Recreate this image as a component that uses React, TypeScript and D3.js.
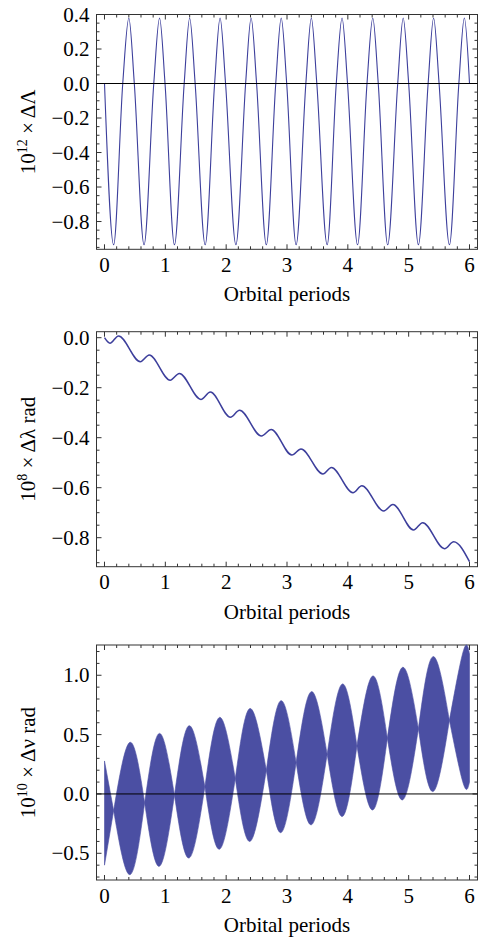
import React, { useEffect, useRef } from "react";
import * as d3 from "d3";

const periodTicks = [0, 1, 2, 3, 4, 5, 6];

// panel 1: 10^12 x ΔΛ  (troughs, zero crossings and peaks)
const bigLambdaX = [
  0, 0.15, 0.30, 0.40, 0.49, 0.65, 0.81, 0.905, 0.995, 1.15, 1.31, 1.40, 1.49,
  1.655, 1.81, 1.90, 1.99, 2.16, 2.32, 2.41, 2.50, 2.66, 2.815, 2.905, 2.995,
  3.15, 3.31, 3.40, 3.49, 3.66, 3.81, 3.905, 3.995, 4.16, 4.315, 4.41, 4.50,
  4.655, 4.82, 4.91, 5.00, 5.16, 5.32, 5.41, 5.50, 5.67, 5.825, 5.915, 6.0,
];
const bigLambdaY = [
  0, -0.935, 0, 0.38, 0, -0.935, 0, 0.38, 0, -0.935, 0, 0.38, 0,
  -0.935, 0, 0.38, 0, -0.935, 0, 0.38, 0, -0.935, 0, 0.38, 0,
  -0.935, 0, 0.38, 0, -0.935, 0, 0.38, 0, -0.935, 0, 0.38, 0,
  -0.935, 0, 0.38, 0, -0.935, 0, 0.38, 0, -0.935, 0, 0.38, 0,
];

// panel 2: 10^8 x Δλ rad
const smallLambdaX = [
  0, 0.09, 0.23, 0.59, 0.735, 1.08, 1.23, 1.585, 1.74, 2.07, 2.22, 2.58, 2.74,
  3.08, 3.23, 3.59, 3.73, 4.085, 4.23, 4.59, 4.74, 5.08, 5.23, 5.59, 5.74, 6.0,
];
const smallLambdaY = [
  0, -0.022, 0.007, -0.096, -0.069, -0.17, -0.143, -0.247, -0.217, -0.318,
  -0.29, -0.393, -0.367, -0.469, -0.445, -0.545, -0.519, -0.62, -0.592, -0.693,
  -0.667, -0.769, -0.74, -0.844, -0.816, -0.896,
];

// panel 3: 10^10 x Δν rad, envelope of the fast oscillation
const nuWaistX = [0.15, 0.66, 1.15, 1.65, 2.15, 2.66, 3.15, 3.66, 4.15, 4.65, 5.16, 5.67];
const nuWaistY = [-0.14, -0.075, -0.01, 0.06, 0.13, 0.2, 0.265, 0.335, 0.405, 0.47, 0.55, 0.62];
const nuPeakX = [0.42, 0.9, 1.39, 1.89, 2.39, 2.9, 3.4, 3.91, 4.41, 4.9, 5.4, 5.9];
const nuUpper = [0.435, 0.51, 0.575, 0.645, 0.72, 0.786, 0.862, 0.927, 0.994, 1.067, 1.157, 1.207];
const nuLower = [-0.68, -0.61, -0.54, -0.466, -0.4, -0.326, -0.26, -0.19, -0.135, -0.05, 0.02, 0.084];
const nuEdgeX = [0, 6];
const nuEdgeUpper = [0.278, 1.18];
const nuEdgeLower = [-0.6, 0.1];

const W = 486;
const H = 942;
const left = 96.5;
const right = 477.5;
const font = "'Liberation Serif', 'Times New Roman', serif";
const fontSize = 21;
const lineColor = "#3d3f9c";
const fillColor = "#4b4fa3";

type Panel = {
  top: number;
  bottom: number;
  domain: [number, number];
  major: number[];
  minorStep: number;
  exp: string;
  label: string;
  zeroLine: boolean;
};

const fmt = (v: number) => (v < 0 ? "\u2212" : "") + Math.abs(v).toFixed(1);

const App = () => {
  const ref = useRef<SVGSVGElement>(null);

  useEffect(() => {
    const svg = d3.select(ref.current);
    svg.selectAll("*").remove();

    const x = d3.scaleLinear().domain([-0.1315, 6.1315]).range([left, right]);

    const drawFrame = (p: Panel) => {
      const y = d3.scaleLinear().domain(p.domain).range([p.bottom, p.top]);
      const g = svg.append("g");

      // ticks on all four sides, pointing in
      const xMinor = d3.range(0, 6.001, 0.2).filter((v) => Math.abs(v - Math.round(v)) > 1e-6);
      const tick = (x1: number, y1: number, x2: number, y2: number) =>
        g.append("line").attr("x1", x1).attr("y1", y1).attr("x2", x2).attr("y2", y2)
          .attr("stroke", "#333").attr("stroke-width", 1);
      periodTicks.forEach((v) => {
        tick(x(v), p.bottom, x(v), p.bottom - 5);
        tick(x(v), p.top, x(v), p.top + 5);
      });
      xMinor.forEach((v) => {
        tick(x(v), p.bottom, x(v), p.bottom - 3);
        tick(x(v), p.top, x(v), p.top + 3);
      });
      const [lo, hi] = p.domain;
      const yMinor = d3.range(Math.ceil(lo / p.minorStep) * p.minorStep, hi, p.minorStep)
        .filter((v) => !p.major.some((m) => Math.abs(m - v) < 1e-6));
      p.major.forEach((v) => {
        tick(left, y(v), left + 5, y(v));
        tick(right, y(v), right - 5, y(v));
      });
      yMinor.forEach((v) => {
        tick(left, y(v), left + 3, y(v));
        tick(right, y(v), right - 3, y(v));
      });

      g.append("rect")
        .attr("x", left).attr("y", p.top)
        .attr("width", right - left).attr("height", p.bottom - p.top)
        .attr("fill", "none").attr("stroke", "#333").attr("stroke-width", 1);

      g.selectAll(".xl").data(periodTicks).enter().append("text")
        .attr("x", (d) => x(d)).attr("y", p.bottom + 22.5)
        .attr("text-anchor", "middle")
        .attr("font-family", font).attr("font-size", fontSize)
        .text((d) => d);

      g.selectAll(".yl").data(p.major).enter().append("text")
        .attr("x", left - 7).attr("y", (d) => y(d) + 7)
        .attr("text-anchor", "end")
        .attr("font-family", font).attr("font-size", fontSize)
        .text((d) => fmt(d));

      g.append("text")
        .attr("x", (left + right) / 2).attr("y", p.bottom + 52)
        .attr("text-anchor", "middle")
        .attr("font-family", font).attr("font-size", fontSize)
        .text("Orbital periods");

      const cy = (p.top + p.bottom) / 2;
      const t = g.append("text")
        .attr("transform", `translate(35,${cy}) rotate(-90)`)
        .attr("text-anchor", "middle")
        .attr("font-family", font).attr("font-size", fontSize);
      t.append("tspan").text("10");
      t.append("tspan").attr("dy", -8).attr("font-size", 14).text(p.exp);
      t.append("tspan").attr("dy", 8).text(" \u00d7 " + p.label);

      return y;
    };

    const panels: Panel[] = [
      { top: 14.5, bottom: 249.3, domain: [-0.961, 0.4], major: [0.4, 0.2, 0, -0.2, -0.4, -0.6, -0.8], minorStep: 0.05, exp: "12", label: "\u0394\u039b", zeroLine: true },
      { top: 331.7, bottom: 566.7, domain: [-0.916, 0.024], major: [0, -0.2, -0.4, -0.6, -0.8], minorStep: 0.05, exp: "8", label: "\u0394\u03bb rad", zeroLine: false },
      { top: 645, bottom: 880, domain: [-0.725, 1.255], major: [1.0, 0.5, 0, -0.5], minorStep: 0.1, exp: "10", label: "\u0394\u03bd rad", zeroLine: true },
    ];

    // panel 1
    const y1 = drawFrame(panels[0]);
    const line1 = d3.line<number>()
      .x((d, i) => x(bigLambdaX[i]))
      .y((d) => y1(d))
      .curve(d3.curveMonotoneX);
    svg.append("path").attr("d", line1(bigLambdaY))
      .attr("fill", "none").attr("stroke", lineColor).attr("stroke-width", 1.1);
    svg.append("line").attr("x1", left).attr("x2", right)
      .attr("y1", y1(0)).attr("y2", y1(0)).attr("stroke", "#000").attr("stroke-width", 1);

    // panel 2
    const y2 = drawFrame(panels[1]);
    const line2 = d3.line<number>()
      .x((d, i) => x(smallLambdaX[i]))
      .y((d) => y2(d))
      .curve(d3.curveMonotoneX);
    svg.append("path").attr("d", line2(smallLambdaY))
      .attr("fill", "none").attr("stroke", lineColor).attr("stroke-width", 1.5);

    // panel 3
    const y3 = drawFrame(panels[2]);
    type Pt = { x: number; up: number; lo: number };
    const lobes: Pt[][] = [];
    lobes.push([
      { x: nuEdgeX[0], up: nuEdgeUpper[0], lo: nuEdgeLower[0] },
      { x: nuWaistX[0], up: nuWaistY[0], lo: nuWaistY[0] },
    ]);
    for (let k = 0; k < nuWaistX.length - 1; k++) {
      lobes.push([
        { x: nuWaistX[k], up: nuWaistY[k], lo: nuWaistY[k] },
        { x: nuPeakX[k], up: nuUpper[k], lo: nuLower[k] },
        { x: nuWaistX[k + 1], up: nuWaistY[k + 1], lo: nuWaistY[k + 1] },
      ]);
    }
    const last = nuWaistX.length - 1;
    lobes.push([
      { x: nuWaistX[last], up: nuWaistY[last], lo: nuWaistY[last] },
      { x: nuPeakX[last], up: nuUpper[last], lo: nuLower[last] },
      { x: nuEdgeX[1], up: nuEdgeUpper[1], lo: nuEdgeLower[1] },
    ]);
    const area = d3.area<Pt>()
      .x((d) => x(d.x))
      .y0((d) => y3(d.lo))
      .y1((d) => y3(d.up))
      .curve(d3.curveNatural);
    svg.append("g").selectAll("path").data(lobes).enter().append("path")
      .attr("d", (d) => area(d))
      .attr("fill", fillColor).attr("stroke", fillColor).attr("stroke-width", 0.6);
    svg.append("line").attr("x1", left).attr("x2", right)
      .attr("y1", y3(0)).attr("y2", y3(0)).attr("stroke", "#000").attr("stroke-width", 1);
  }, []);

  return (
    <svg
      ref={ref}
      width={W}
      height={H}
      style={{ position: "absolute", left: 0, top: 0, background: "#fff" }}
    />
  );
};

export default App;
